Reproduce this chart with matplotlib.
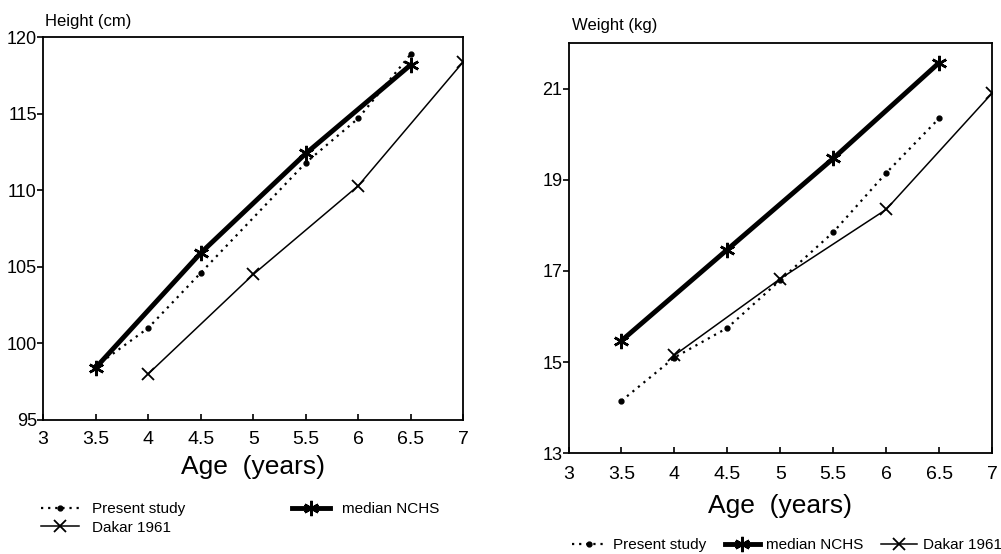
import numpy as np
import matplotlib
matplotlib.use("Agg")
import matplotlib.pyplot as plt

plt.rcParams['font.family'] = ['Liberation Sans', 'DejaVu Sans']

# height (cm) by age (years)
age_study_h = [3.5, 4.0, 4.5, 5.5, 6.0, 6.5]
height_study = [98.5, 101.0, 104.6, 111.8, 114.7, 118.9]
age_nchs = [3.5, 4.5, 5.5, 6.5]
height_nchs = [98.4, 105.9, 112.4, 118.2]
age_dakar = [4.0, 5.0, 6.0, 7.0]
height_dakar = [98.0, 104.5, 110.3, 118.4]

# weight (kg) by age (years)
age_study_w = [3.5, 4.0, 4.5, 5.0, 5.5, 6.0, 6.5]
weight_study = [14.15, 15.1, 15.75, 16.8, 17.85, 19.15, 20.35]
weight_nchs = [15.47, 17.47, 19.47, 21.57]
weight_dakar = [15.15, 16.83, 18.35, 20.9]

xticks = [3, 3.5, 4, 4.5, 5, 5.5, 6, 6.5, 7]
xtick_labels = ['3', '3.5', '4', '4.5', '5', '5.5', '6', '6.5', '7']

star = (6, 2, 0)

fig = plt.figure(figsize=(10.01, 5.54), dpi=100)
ax1 = fig.add_axes([0.043, 0.242, 0.420, 0.691])
ax2 = fig.add_axes([0.568, 0.182, 0.423, 0.740])


def draw(ax, xs, ys, xn, yn, xd, yd, xpad, lpad):
    l1, = ax.plot(xs, ys, color='black', linestyle=(0, (1, 2.2)), lw=1.6,
                  marker='o', ms=3.5, label='Present study')
    l2, = ax.plot(xn, yn, color='black', lw=3.5, marker=star, ms=11, mew=1.8,
                  label='median NCHS')
    l3, = ax.plot(xd, yd, color='black', lw=1.1, marker='x', ms=8, mew=1.3,
                  label='Dakar 1961')
    ax.set_xlim(3, 7)
    ax.set_xticks(xticks)
    ax.set_xticklabels(xtick_labels, fontsize=14)
    ax.tick_params(axis='x', direction='in', length=4, width=1.2, pad=xpad)
    ax.tick_params(axis='y', direction='out', length=4, width=1.2, labelsize=13, pad=0.5)
    for s in ax.spines.values():
        s.set_linewidth(1.3)
    ax.set_xlabel('Age  (years)', fontsize=19, labelpad=lpad)
    return [l1, l2, l3]


h = draw(ax1, age_study_h, height_study, age_nchs, height_nchs,
         age_dakar, height_dakar, 8, 5)
ax1.set_ylim(95, 120)
ax1.set_yticks([95, 100, 105, 110, 115, 120])
fig.text(0.045, 0.948, 'Height (cm)', fontsize=12, ha='left', va='bottom')
fig.legend([h[0], h[2], h[1]], ['Present study', 'Dakar 1961', 'median NCHS'],
           loc='upper left', bbox_to_anchor=(0.035, 0.105), ncol=2, frameon=False,
           fontsize=11, handlelength=2.5, columnspacing=7, labelspacing=0.3,
           handletextpad=0.8, borderaxespad=0, numpoints=1)

w = draw(ax2, age_study_w, weight_study, age_nchs, weight_nchs,
         age_dakar, weight_dakar, 9, 8)
ax2.set_ylim(13, 22)
ax2.set_yticks([13, 15, 17, 19, 21])
fig.text(0.571, 0.94, 'Weight (kg)', fontsize=12, ha='left', va='bottom')
fig.legend(w, ['Present study', 'median NCHS', 'Dakar 1961'],
           loc='upper left', bbox_to_anchor=(0.565, 0.04), ncol=3, frameon=False,
           fontsize=11, handlelength=2.3, columnspacing=1.2,
           handletextpad=0.4, borderaxespad=0, numpoints=1)

fig.savefig('out.png', dpi=100)
